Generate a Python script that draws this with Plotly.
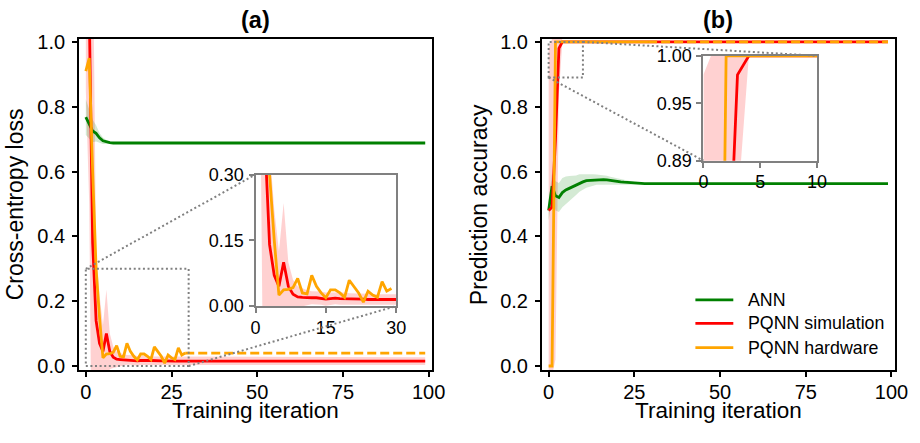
import plotly.graph_objects as go

# ---------------- data ----------------
iterations = list(range(100))
hw_iterations = list(range(30))

# (a) cross-entropy loss
ann_loss_head = [0.768, 0.745, 0.725, 0.718, 0.704, 0.695, 0.691, 0.689, 0.688, 0.688]
ann_loss_plateau = 0.688
ann_loss_std_head = [0.055, 0.045, 0.035, 0.025, 0.015, 0.010, 0.006, 0.004, 0.003, 0.002]
ann_loss_std_plateau = 0.002

sim_loss_head = [1.45, 1.10, 0.38, 0.14, 0.07, 0.045, 0.10, 0.045, 0.027, 0.021,
                 0.020, 0.019, 0.019, 0.019, 0.018, 0.016, 0.017, 0.018, 0.017, 0.017,
                 0.016, 0.016, 0.016, 0.016, 0.015, 0.015, 0.015, 0.015, 0.015, 0.015]
sim_loss_plateau = 0.015
sim_loss_std_head = [0.60, 0.60, 1.00, 0.22, 0.15, 0.080, 0.135, 0.055, 0.033, 0.024,
                     0.020, 0.017, 0.015, 0.015, 0.015, 0.015, 0.014, 0.014, 0.014, 0.014,
                     0.013, 0.013, 0.013, 0.013, 0.013, 0.012, 0.012, 0.012, 0.012, 0.012]
sim_loss_std_plateau = 0.012

hw_loss = [0.91, 0.95, 0.60, 0.30, 0.15, 0.025, 0.037, 0.038, 0.042, 0.063,
           0.030, 0.028, 0.070, 0.045, 0.030, 0.019, 0.037, 0.037, 0.030, 0.020,
           0.059, 0.045, 0.030, 0.009, 0.034, 0.025, 0.020, 0.056, 0.034, 0.040]

# (b) prediction accuracy
ann_acc_head = [0.480, 0.555, 0.525, 0.520, 0.535, 0.543, 0.548, 0.553, 0.558, 0.565,
                0.568, 0.572, 0.573, 0.574, 0.575, 0.575, 0.575, 0.574, 0.572, 0.571,
                0.569, 0.568, 0.567, 0.566, 0.565, 0.564]
ann_acc_plateau = 0.563
ann_acc_std_head = [0.030, 0.040, 0.045, 0.045, 0.045, 0.042, 0.038, 0.034, 0.030, 0.027,
                    0.024, 0.022, 0.020, 0.018, 0.016, 0.015, 0.014, 0.013, 0.012, 0.011,
                    0.010, 0.009, 0.007, 0.006, 0.005, 0.004]
ann_acc_std_plateau = 0.002

sim_acc_head = [0.48, 0.49, 0.70, 0.98]
sim_acc_plateau = 1.0
sim_acc_std_head = [0.50, 0.52, 0.68, 0.14]
sim_acc_std_plateau = 0.0

hw_acc = [0.0, 0.0] + [1.0] * 28

x_ticks = [0, 25, 50, 75, 100]
loss_ticks = [0.0, 0.2, 0.4, 0.6, 0.8, 1.0]
acc_ticks = [0.0, 0.2, 0.4, 0.6, 0.8, 1.0]
inset_a_xticks = [0, 15, 30]
inset_a_yticks = [0.0, 0.15, 0.30]
inset_b_xticks = [0, 5, 10]
inset_b_yticks = [0.89, 0.95, 1.00]


def full(head, plateau):
    return head + [plateau] * (len(iterations) - len(head))


ann_loss = full(ann_loss_head, ann_loss_plateau)
ann_loss_std = full(ann_loss_std_head, ann_loss_std_plateau)
sim_loss = full(sim_loss_head, sim_loss_plateau)
sim_loss_std = full(sim_loss_std_head, sim_loss_std_plateau)
ann_acc = full(ann_acc_head, ann_acc_plateau)
ann_acc_std = full(ann_acc_std_head, ann_acc_std_plateau)
sim_acc = full(sim_acc_head, sim_acc_plateau)
sim_acc_std = full(sim_acc_std_head, sim_acc_std_plateau)

# ---------------- style / layout ----------------
# Layout positions are written in target-picture pixels and mapped to the figure
# (the page keeps an 8px body margin and is photographed slightly scaled).
W, H = 920, 443
PAGE_MARGIN = 8
SX, SY = 920 / 936, 443 / 459
FONT = "Liberation Sans, Arial, sans-serif"
GREEN, RED, ORANGE = "#008000", "#ff0000", "#ffa500"
GRAY = "#808080"
LW = 2.8


def px(a):
    return (a / SX - PAGE_MARGIN) / W


def py(b):
    return 1 - (b / SY - PAGE_MARGIN) / H


def dom_x(a, b):
    return [px(a), px(b)]


def dom_y(top, bottom):
    return [py(bottom), py(top)]


A_X = dom_x(82, 436)
B_X = dom_x(546, 900)
MAIN_Y = dom_y(37, 371.5)
INA_X = dom_x(259, 400)
INA_Y = dom_y(174, 307)
INB_X = dom_x(708, 822)
INB_Y = dom_y(54, 160)

X_RANGE = [-2, 101]
Y_RANGE = [-0.012, 1.009]
INA_XR, INA_YR = [0, 30], [0, 0.30]
INB_XR, INB_YR = [0, 10], [0.89, 1.00]

fig = go.Figure()


def band(x, mean, std, color, xa, ya):
    up = [m + s for m, s in zip(mean, std)]
    lo = [m - s for m, s in zip(mean, std)]
    fig.add_trace(go.Scatter(x=list(x) + list(x)[::-1], y=up + lo[::-1], fill="toself",
                             fillcolor=color, line=dict(width=0), mode="lines",
                             hoverinfo="skip", showlegend=False, xaxis=xa, yaxis=ya))


def line(x, y, color, xa, ya, dash="solid"):
    fig.add_trace(go.Scatter(x=list(x), y=list(y), mode="lines",
                             line=dict(color=color, width=LW, dash=dash),
                             showlegend=False, xaxis=xa, yaxis=ya))


PINK = "rgba(255,0,0,0.18)"
LGREEN = "rgba(0,128,0,0.17)"
DASH = "9px,4px"

# (a) main
band(iterations, sim_loss, sim_loss_std, PINK, "x", "y")
band(iterations, ann_loss, ann_loss_std, LGREEN, "x", "y")
line(iterations, ann_loss, GREEN, "x", "y")
line(iterations, sim_loss, RED, "x", "y")
line(hw_iterations, hw_loss, ORANGE, "x", "y")
line([hw_iterations[-1], iterations[-1]], [hw_loss[-1]] * 2, ORANGE, "x", "y", DASH)

# (b) main
band(iterations, sim_acc, sim_acc_std, PINK, "x2", "y2")
band(iterations, ann_acc, ann_acc_std, LGREEN, "x2", "y2")
line(iterations, ann_acc, GREEN, "x2", "y2")
line(iterations, sim_acc, RED, "x2", "y2")
line(hw_iterations, hw_acc, ORANGE, "x2", "y2")
line([hw_iterations[-1], iterations[-1]], [hw_acc[-1]] * 2, ORANGE, "x2", "y2", DASH)

# (a) inset
band(iterations, sim_loss, sim_loss_std, PINK, "x3", "y3")
line(iterations, ann_loss, GREEN, "x3", "y3")
line(iterations, sim_loss, RED, "x3", "y3")
line(hw_iterations, hw_loss, ORANGE, "x3", "y3")

# (b) inset
band(iterations, sim_acc, sim_acc_std, PINK, "x4", "y4")
line(iterations, ann_acc, GREEN, "x4", "y4")
line(iterations, sim_acc, RED, "x4", "y4")
line(hw_iterations, hw_acc, ORANGE, "x4", "y4")

TICKFONT = dict(family=FONT, size=20, color="black")
INSETFONT = dict(family=FONT, size=18, color="black")


def main_axis(domain, rng, anchor, tickvals, fmt, standoff):
    return dict(domain=domain, range=rng, anchor=anchor, tickvals=tickvals, tickformat=fmt,
                showgrid=False, zeroline=False, showline=True, linecolor="black",
                linewidth=1.6, mirror=True, ticks="outside", ticklen=5, tickwidth=1.6,
                tickcolor="black", tickfont=TICKFONT, ticklabelstandoff=standoff)


def inset_axis(domain, rng, anchor, tickvals, fmt, standoff):
    return dict(domain=domain, range=rng, anchor=anchor, tickvals=tickvals, tickformat=fmt,
                showgrid=False, zeroline=False, showline=True, linecolor=GRAY,
                linewidth=2, mirror=True, ticks="outside", ticklen=5, tickwidth=1.6,
                tickcolor=GRAY, tickfont=INSETFONT, ticklabelstandoff=standoff)


fig.update_layout(
    width=W, height=H, autosize=False,
    margin=dict(l=0, r=0, t=0, b=0),
    paper_bgcolor="white", plot_bgcolor="white",
    font=dict(family=FONT, color="black"),
    xaxis=main_axis(A_X, X_RANGE, "y", x_ticks, "d", -2),
    yaxis=main_axis(MAIN_Y, Y_RANGE, "x", loss_ticks, ".1f", 3),
    xaxis2=main_axis(B_X, X_RANGE, "y2", x_ticks, "d", -2),
    yaxis2=main_axis(MAIN_Y, Y_RANGE, "x2", acc_ticks, ".1f", 3),
    xaxis3=inset_axis(INA_X, INA_XR, "y3", inset_a_xticks, "d", -1),
    yaxis3=inset_axis(INA_Y, INA_YR, "x3", inset_a_yticks, ".2f", 1),
    xaxis4=inset_axis(INB_X, INB_XR, "y4", inset_b_xticks, "d", -1),
    yaxis4=inset_axis(INB_Y, INB_YR, "x4", inset_b_yticks, ".2f", 1),
    showlegend=False,
)


# ---------------- zoom rectangles & connectors ----------------
def to_paper(xv, yv, xd, xr, yd, yr):
    ppx = xd[0] + (xv - xr[0]) / (xr[1] - xr[0]) * (xd[1] - xd[0])
    ppy = yd[0] + (yv - yr[0]) / (yr[1] - yr[0]) * (yd[1] - yd[0])
    return ppx, ppy


DOT = dict(color=GRAY, width=2, dash="2px,2.6px")

shapes = []
# panel (a): rectangle [0,30]x[0,0.3]
shapes.append(dict(type="rect", xref="x", yref="y", x0=INA_XR[0], x1=INA_XR[1],
                   y0=INA_YR[0], y1=INA_YR[1], line=DOT, layer="above"))
for (cx, cy, ix, iy) in [(INA_XR[0], INA_YR[1], 0, 1), (INA_XR[1], INA_YR[0], 1, 0)]:
    p0 = to_paper(cx, cy, A_X, X_RANGE, MAIN_Y, Y_RANGE)
    p1 = (INA_X[ix], INA_Y[iy])
    shapes.append(dict(type="line", xref="paper", yref="paper", x0=p0[0], y0=p0[1],
                       x1=p1[0], y1=p1[1], line=DOT, layer="above"))
# panel (b): rectangle [0,10]x[0.89,1.0]
shapes.append(dict(type="rect", xref="x2", yref="y2", x0=INB_XR[0], x1=INB_XR[1],
                   y0=INB_YR[0], y1=INB_YR[1], line=DOT, layer="above"))
for (cx, cy, ix, iy) in [(INB_XR[1], INB_YR[1], 1, 1), (INB_XR[0], INB_YR[0], 0, 0)]:
    p0 = to_paper(cx, cy, B_X, X_RANGE, MAIN_Y, Y_RANGE)
    p1 = (INB_X[ix], INB_Y[iy])
    shapes.append(dict(type="line", xref="paper", yref="paper", x0=p0[0], y0=p0[1],
                       x1=p1[0], y1=p1[1], line=DOT, layer="above"))

# ---------------- legend (panel b) ----------------
legend_names = ["ANN", "PQNN simulation", "PQNN hardware"]
legend_colors = [GREEN, RED, ORANGE]
legend_rows_px = [300.7, 324.5, 349.0]
annotations = []
for name, col, ypx in zip(legend_names, legend_colors, legend_rows_px):
    shapes.append(dict(type="line", xref="paper", yref="paper", x0=px(700), x1=px(738),
                       y0=py(ypx), y1=py(ypx), line=dict(color=col, width=LW)))
    annotations.append(dict(text=name, xref="paper", yref="paper", x=px(751), y=py(ypx),
                            xanchor="left", yanchor="middle", showarrow=False,
                            font=dict(family=FONT, size=17.8, color="black")))

# ---------------- titles ----------------
for txt, xc in [("<b>(a)</b>", (82 + 436) / 2), ("<b>(b)</b>", (546 + 900) / 2)]:
    annotations.append(dict(text=txt, xref="paper", yref="paper", x=px(xc), y=py(18),
                            xanchor="center", yanchor="middle", showarrow=False,
                            font=dict(family=FONT, size=23.5, color="black")))
for xc in [(82 + 436) / 2, (546 + 900) / 2]:
    annotations.append(dict(text="Training iteration", xref="paper", yref="paper", x=px(xc),
                            y=py(413), xanchor="center", yanchor="middle", showarrow=False,
                            font=dict(family=FONT, size=22.5, color="black")))
for txt, xc in [("Cross-entropy loss", 18), ("Prediction accuracy", 483)]:
    annotations.append(dict(text=txt, xref="paper", yref="paper", x=px(xc),
                            y=py(204), xanchor="center", yanchor="middle", showarrow=False,
                            textangle=-90, font=dict(family=FONT, size=23, color="black")))

fig.update_layout(shapes=shapes, annotations=annotations)
fig.write_html("out.html")
